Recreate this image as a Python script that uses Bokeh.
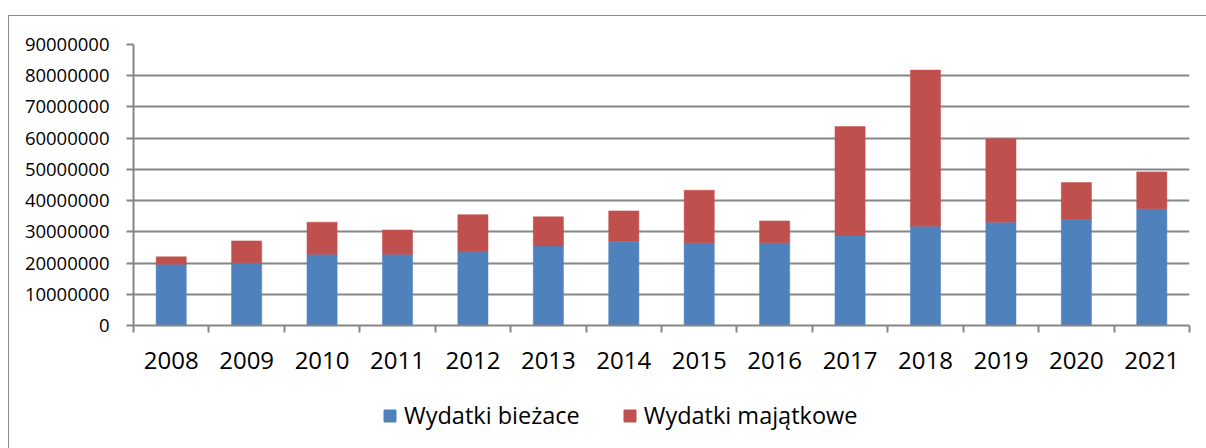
from bokeh.plotting import figure
from bokeh.layouts import column
from bokeh.models import (FixedTicker, Legend, LegendItem, ColumnDataSource,
                          Range1d, NumeralTickFormatter)
from bokeh.embed import file_html
from bokeh.resources import INLINE

years = ["2008", "2009", "2010", "2011", "2012", "2013", "2014",
         "2015", "2016", "2017", "2018", "2019", "2020", "2021"]
wydatki_biezace = [19.6e6, 20.1e6, 22.8e6, 22.8e6, 23.6e6, 25.5e6, 27.0e6,
                   26.5e6, 26.5e6, 29.0e6, 31.8e6, 33.1e6, 34.0e6, 37.4e6]
wydatki_majatkowe = [2.4e6, 7.0e6, 10.3e6, 7.8e6, 11.9e6, 9.3e6, 9.7e6,
                     16.8e6, 7.0e6, 34.7e6, 50.0e6, 26.7e6, 11.8e6, 11.8e6]
y_ticks = [0, 10000000, 20000000, 30000000, 40000000, 50000000,
           60000000, 70000000, 80000000, 90000000]
series_names = ["Wydatki bieżace", "Wydatki majątkowe"]
colors = ["#4F81BD", "#C0504D"]

n = len(years)
centers = [i + 0.5 for i in range(n)]
bounds = list(range(n + 1))

src = ColumnDataSource(dict(x=centers, b=wydatki_biezace, m=wydatki_majatkowe))

FONT = "Open Sans"
GRID = "#868686"
BORDER = "#8c8c8c"

p = figure(width=1197, height=368,
           x_range=Range1d(0, n), y_range=Range1d(0, y_ticks[-1]),
           output_backend="svg", toolbar_location=None,
           min_border_left=124, min_border_top=28,
           min_border_right=17, min_border_bottom=59)
p.outline_line_color = None
p.background_fill_color = "white"
p.border_fill_color = "white"

p.vbar_stack(["b", "m"], x="x", width=0.4, color=colors,
             line_color=colors, line_width=0.5, source=src)

# grid
p.xgrid.visible = False
p.ygrid.grid_line_color = GRID
p.ygrid.grid_line_width = 2
p.ygrid.ticker = FixedTicker(ticks=y_ticks)

# y axis
yax = p.yaxis[0]
yax.ticker = FixedTicker(ticks=y_ticks)
yax.formatter = NumeralTickFormatter(format="0")
yax.axis_line_color = GRID
yax.axis_line_width = 2
yax.major_tick_line_color = GRID
yax.major_tick_line_width = 2
yax.major_tick_out = 7
yax.major_tick_in = 0
yax.minor_tick_line_color = None
yax.major_label_text_font = FONT
yax.major_label_text_font_size = "18.5px"
yax.major_label_text_color = "black"
yax.major_label_standoff = 17

# x axis
xax = p.xaxis[0]
xax.ticker = FixedTicker(ticks=centers, minor_ticks=bounds)
xax.major_label_overrides = {c: y for c, y in zip(centers, years)}
xax.axis_line_color = GRID
xax.axis_line_width = 2
xax.major_tick_line_color = None
xax.minor_tick_line_color = GRID
xax.minor_tick_line_width = 2
xax.minor_tick_out = 7
xax.minor_tick_in = 0
xax.major_label_text_font = FONT
xax.major_label_text_font_size = "24px"
xax.major_label_text_color = "black"
xax.major_label_standoff = 19

# legend strip
p2 = figure(width=1197, height=64, x_range=Range1d(0, 1), y_range=Range1d(0, 1),
            output_backend="svg", toolbar_location=None,
            x_axis_location=None, y_axis_location=None,
            min_border_left=124, min_border_right=17,
            min_border_top=0, min_border_bottom=0)
p2.grid.visible = False
p2.outline_line_color = None
p2.background_fill_color = "white"
p2.border_fill_color = "white"
lr = [p2.vbar(x=[0.5], top=[-5], bottom=[-6], width=0.1,
              fill_color=c, line_color=c) for c in colors]
legend = Legend(items=[LegendItem(label=series_names[i], renderers=[lr[i]]) for i in range(2)],
                orientation="horizontal", location=(249, 17),
                border_line_color=None, background_fill_alpha=0,
                padding=0, margin=0, spacing=42, label_standoff=7,
                glyph_width=15, glyph_height=15, label_height=24,
                label_text_font=FONT, label_text_font_size="23.5px",
                label_text_color="black")
p2.add_layout(legend, "center")

layout = column(p, p2, spacing=0)
layout.styles = {"border-left": f"1px solid {BORDER}",
                 "border-top": f"1px solid {BORDER}",
                 "margin-left": "8px",
                 "margin-top": "15px"}

open("out.html", "w").write(file_html(layout, INLINE))
